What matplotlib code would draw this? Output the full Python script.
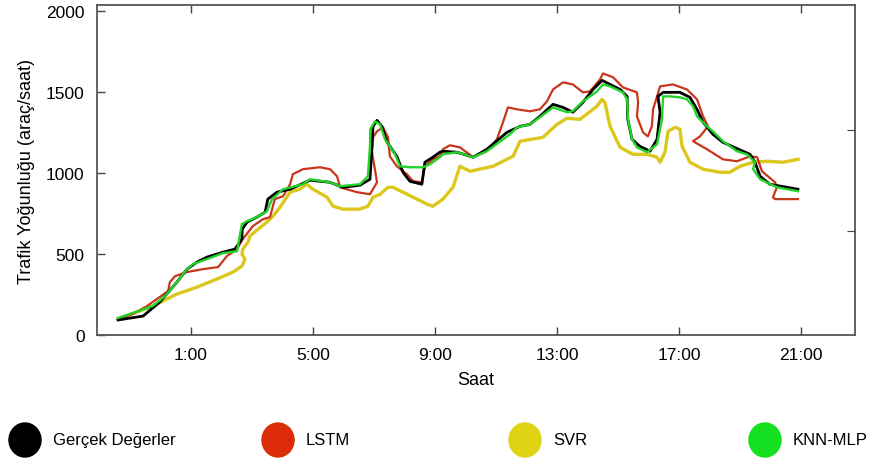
import matplotlib
matplotlib.use('Agg')
import matplotlib.pyplot as plt
from matplotlib.patches import Ellipse

plt.rcParams['font.family'] = ['Liberation Sans', 'DejaVu Sans']

# hours (x) and traffic values (y)
gercek_x = [-1.39, -0.57, -0.02, 0.54, 0.87, 1.20, 1.52, 2.05, 2.44, 2.67, 2.68, 2.84, 3.16, 3.43, 3.52, 3.82,
            4.25, 4.90, 5.56, 5.98, 6.54, 6.87, 6.93, 6.97, 7.10, 7.26, 7.43, 7.75, 7.95, 8.18, 8.57, 8.67,
            8.93, 9.16, 9.26, 9.72, 10.25, 10.70, 11.36, 11.79, 12.11, 12.44, 12.87, 13.20, 13.52, 13.85,
            14.18, 14.48, 14.74, 15.07, 15.30, 15.32, 15.46, 15.72, 16.05, 16.28, 16.38, 16.31, 16.48,
            17.03, 17.36, 17.59, 17.79, 18.11, 18.44, 19.10, 19.33, 19.49, 19.66, 19.98, 20.54, 20.90]
gercek_y = [93, 117, 204, 327, 407, 451, 481, 512, 531, 593, 654, 698, 728, 759, 840, 883,
            901, 957, 944, 913, 926, 963, 1148, 1290, 1327, 1290, 1191, 1105, 1006, 950, 932, 1068,
            1099, 1130, 1136, 1130, 1099, 1148, 1253, 1290, 1302, 1352, 1426, 1407, 1377, 1438,
            1518, 1574, 1549, 1518, 1475, 1333, 1210, 1166, 1136, 1210, 1377, 1475, 1500,
            1500, 1469, 1395, 1315, 1241, 1191, 1136, 1117, 1068, 981, 932, 913, 901]

lstm_x = [-1.39, -0.90, -0.44, -0.02, 0.25, 0.31, 0.48, 0.87, 1.39, 1.89, 2.18, 2.51, 2.70, 3.03, 3.36, 3.59,
          3.75, 4.02, 4.25, 4.34, 4.67, 5.23, 5.56, 5.79, 5.89, 6.44, 6.87, 7.10, 7.03, 6.93, 6.97, 7.10,
          7.30, 7.46, 7.52, 7.75, 8.08, 8.28, 8.57, 8.67, 8.93, 9.16, 9.26, 9.49, 9.82, 10.25, 10.70,
          11.03, 11.23, 11.39, 11.69, 12.11, 12.44, 12.67, 12.87, 13.20, 13.52, 13.85, 14.08, 14.41,
          14.51, 14.84, 15.16, 15.62, 15.66, 15.62, 15.82, 15.98, 16.11, 16.15, 16.28, 16.38, 16.80,
          17.26, 17.59, 17.79, 17.95, 17.69, 17.46, 17.92, 18.44, 18.90, 19.33, 19.56, 19.72, 20.15,
          20.21, 20.08, 20.15, 20.90]
lstm_y = [99, 130, 179, 235, 272, 327, 364, 389, 407, 420, 488, 531, 593, 673, 716, 728,
          840, 858, 932, 994, 1025, 1037, 1025, 981, 913, 883, 870, 944, 1025, 1136, 1222, 1259,
          1284, 1222, 1105, 1043, 994, 951, 944, 1043, 1086, 1105, 1148, 1173, 1160, 1099, 1136,
          1210, 1315, 1407, 1395, 1383, 1395, 1444, 1518, 1562, 1549, 1500, 1506, 1580,
          1617, 1593, 1531, 1500, 1438, 1352, 1253, 1228, 1290, 1395, 1475, 1537, 1549,
          1518, 1457, 1352, 1290, 1228, 1198, 1148, 1086, 1074, 1105, 1099, 1012, 944,
          913, 852, 840, 840]

svr_x = [-1.39, -0.25, 0.54, 1.20, 1.85, 2.38, 2.67, 2.77, 2.67, 2.70, 2.87, 2.93, 3.20, 3.49, 3.69, 3.92,
         4.25, 4.57, 4.80, 5.00, 5.46, 5.66, 5.98, 6.54, 6.80, 6.97, 7.20, 7.46, 7.62, 7.95, 8.41, 8.74,
         8.93, 9.26, 9.59, 9.82, 10.15, 10.90, 11.56, 11.79, 12.54, 13.00, 13.33, 13.75, 14.31, 14.48,
         14.57, 14.74, 15.07, 15.49, 15.95, 16.28, 16.38, 16.54, 16.64, 16.87, 17.03, 17.10, 17.36,
         17.79, 18.34, 18.67, 19.00, 19.43, 19.89, 20.41, 20.90]
svr_y = [99, 179, 253, 296, 346, 389, 426, 469, 500, 531, 574, 611, 654, 698, 735, 790,
         883, 901, 932, 901, 852, 796, 778, 778, 796, 852, 870, 913, 913, 883, 840, 809,
         796, 840, 913, 1043, 1012, 1043, 1105, 1198, 1222, 1302, 1340, 1333, 1414, 1457,
         1438, 1290, 1160, 1117, 1117, 1099, 1068, 1130, 1259, 1284, 1272, 1167, 1068,
         1025, 1006, 1006, 1043, 1068, 1074, 1068, 1086]

knn_x = [-1.39, -1.00, -0.25, 0.15, 0.54, 0.87, 1.07, 1.52, 2.05, 2.51, 2.61, 2.67, 2.84, 3.16, 3.49, 3.66,
         4.02, 4.67, 4.90, 5.56, 5.89, 6.54, 6.80, 6.87, 6.88, 7.03, 7.20, 7.36, 7.69, 7.85, 8.18, 8.61,
         8.84, 9.16, 9.26, 9.72, 10.25, 10.70, 11.46, 11.69, 12.11, 12.44, 12.87, 13.33, 13.52, 13.85,
         14.31, 14.51, 14.74, 15.16, 15.30, 15.33, 15.46, 15.62, 15.95, 16.28, 16.44, 16.48, 16.70,
         17.03, 17.26, 17.46, 17.59, 17.92, 18.11, 18.44, 18.90, 19.23, 19.49, 19.43, 19.66, 20.21, 20.90]
knn_y = [105, 130, 179, 241, 327, 407, 438, 469, 506, 518, 623, 685, 704, 728, 765, 840,
         901, 932, 963, 944, 920, 932, 981, 1167, 1272, 1321, 1302, 1210, 1117, 1043, 1037, 1037,
         1056, 1099, 1117, 1130, 1099, 1136, 1241, 1284, 1302, 1346, 1407, 1377, 1383, 1444,
         1506, 1549, 1537, 1500, 1457, 1333, 1210, 1160, 1130, 1179, 1333, 1475, 1475,
         1469, 1457, 1414, 1352, 1290, 1259, 1198, 1136, 1117, 1068, 1025, 963, 913, 889]

hour_ticks = [1, 5, 9, 13, 17, 21]
hour_labels = ['1:00', '5:00', '9:00', '13:00', '17:00', '21:00']
value_ticks = [0, 500, 1000, 1500, 2000]

legend_labels = ['Gerçek Değerler', 'LSTM', 'SVR', 'KNN-MLP']
legend_colors = ['#000000', '#dc2c0a', '#dfd314', '#12e020']

fig = plt.figure(figsize=(8.72, 4.64), dpi=100)
ax = fig.add_axes([97 / 872, 1 - 336 / 464, (855 - 97) / 872, (336 - 6) / 464])

ax.plot(svr_x, svr_y, color='#dcc81c', lw=2.4, zorder=2)
ax.plot(lstm_x, lstm_y, color='#c8361c', lw=1.6, zorder=3)
ax.plot(gercek_x, gercek_y, color='#000000', lw=2.0, zorder=4)
ax.plot(knn_x, knn_y, color='#22d42a', lw=1.7, zorder=5)

ax.set_xlim(-2.08, 22.77)
ax.set_ylim(0, 2040)
ax.set_xticks(hour_ticks)
ax.set_xticklabels(hour_labels)
ax.set_yticks(value_ticks)
ax.tick_params(direction='in', length=6, width=1, color='#444444', labelsize=12.5,
               top=True, pad=9)
for s in ax.spines.values():
    s.set_color('#555555')
    s.set_linewidth(1.3)

# small extra ticks on the right spine
ax2 = ax.twinx()
ax2.set_ylim(0, 2040)
ax2.set_yticks([640, 1270])
ax2.set_yticklabels([])
ax2.tick_params(direction='in', length=6, color='#444444')
for s in ax2.spines.values():
    s.set_visible(False)

ax.set_xlabel('Saat', fontsize=13, labelpad=6)
ax.set_ylabel('Trafik Yoğunluğu (araç/saat)', fontsize=13, labelpad=8)

# legend row under the chart
lg = fig.add_axes([0, 0, 1, 1])
lg.set_xlim(0, 872)
lg.set_ylim(464, 0)
lg.axis('off')
circle_x = [25, 278, 525, 765]
for cx, lab, col in zip(circle_x, legend_labels, legend_colors):
    lg.add_patch(Ellipse((cx, 441), 32, 34, color=col))
    lg.text(cx + 28, 441, lab, fontsize=12, va='center', ha='left')

fig.savefig('out.png', dpi=100)
